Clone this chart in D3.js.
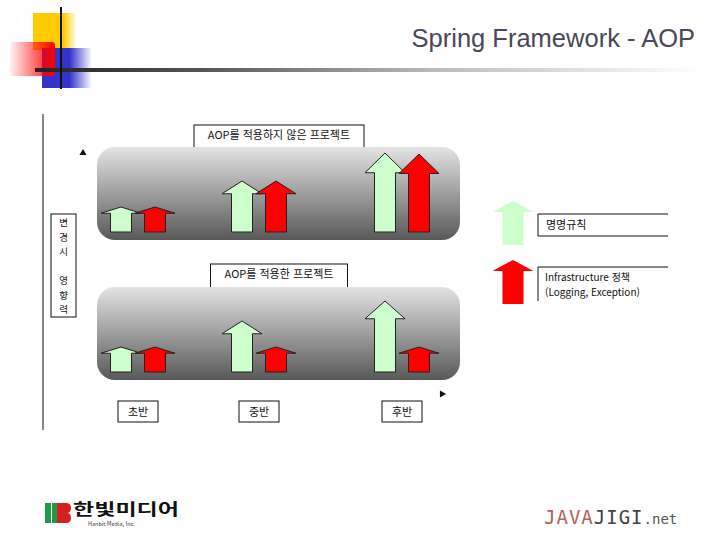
<!DOCTYPE html>
<html lang="ko">
<head>
<meta charset="utf-8">
<script src="https://d3js.org/d3.v7.min.js"></script>
<style>
body { margin: 0; background: #ffffff; }
text { font-family: "Noto Sans CJK KR", "Liberation Sans", sans-serif; }
</style>
</head>
<body>
<script>
// chart data
var phases = ["초반", "중반", "후반"];
var seriesNames = ["명명규칙", "Infrastructure 정책"];
var noAopRule = [25, 51, 79];
var noAopInfra = [25, 51, 78];
var aopRule = [25, 51, 71];
var aopInfra = [25, 25, 25];
var panelTitles = ["AOP를 적용하지 않은 프로젝트", "AOP를 적용한 프로젝트"];
var axisLabel = ["변", "경", "시", "", "영", "향", "력"];

var width = 720, height = 540;
var green = "#ccffcc", red = "#ff0000";

var svg = d3.select("body").append("svg")
  .attr("width", width)
  .attr("height", height);

var defs = svg.append("defs");

function linGrad(id, x2, y2, stops) {
  var g = defs.append("linearGradient").attr("id", id)
    .attr("x1", "0%").attr("y1", "0%").attr("x2", x2).attr("y2", y2);
  stops.forEach(function(s) {
    g.append("stop").attr("offset", s[0]).attr("stop-color", s[1]).attr("stop-opacity", s[2]);
  });
}
linGrad("panelGrad", "0%", "100%", [["0%", "#e4e4e4", 1], ["100%", "#585858", 1]]);
linGrad("ruleGrad", "100%", "0%", [["0%", "#222", 1], ["25%", "#555", 1], ["60%", "#bbb", 1], ["100%", "#fff", 1]]);
linGrad("yellowGrad", "100%", "0%", [["0%", "#ffcc00", 1], ["70%", "#ffcc00", 1], ["100%", "#ffcc00", 0]]);
linGrad("blueGrad", "100%", "0%", [["0%", "#3333cc", 1], ["55%", "#3333cc", 1], ["100%", "#3333cc", 0]]);
linGrad("redGrad", "100%", "0%", [["0%", "#ff0000", 0.05], ["100%", "#ff0000", 1]]);

// header decoration
svg.append("rect").attr("x", 33).attr("y", 13).attr("width", 44).attr("height", 37).attr("fill", "url(#yellowGrad)");
svg.append("rect").attr("x", 42).attr("y", 48).attr("width", 50).attr("height", 40).attr("fill", "url(#blueGrad)");
svg.append("rect").attr("x", 10).attr("y", 42).attr("width", 45).attr("height", 34).attr("rx", 3).attr("fill", "url(#redGrad)");
svg.append("rect").attr("x", 35).attr("y", 68).attr("width", 665).attr("height", 4).attr("fill", "url(#ruleGrad)");
svg.append("line").attr("x1", 61).attr("x2", 61).attr("y1", 7).attr("y2", 89)
  .attr("stroke", "#111").attr("stroke-width", 2);

svg.append("text")
  .attr("x", 695).attr("y", 47)
  .attr("text-anchor", "end")
  .style("font-family", "Liberation Sans, sans-serif")
  .style("font-size", "25.5px")
  .attr("fill", "#48485a")
  .text("Spring Framework - AOP");

// scales
var x = d3.scaleOrdinal().domain(phases).range([138, 259, 402]);
var sub = d3.scaleOrdinal().domain(seriesNames).range([-17, 17]);
var yTop = d3.scaleLinear().domain([0, 100]).range([232, 132]);
var yBot = d3.scaleLinear().domain([0, 100]).range([372, 272]);

// arrow path: center cx, bottom y0, tip y1
function arrowPath(cx, y0, y1, shaft, head) {
  var len = y0 - y1, hh = len * 0.25;
  var p = d3.path();
  p.moveTo(cx - shaft / 2, y0);
  p.lineTo(cx - shaft / 2, y1 + hh);
  p.lineTo(cx - head / 2, y1 + hh);
  p.lineTo(cx, y1);
  p.lineTo(cx + head / 2, y1 + hh);
  p.lineTo(cx + shaft / 2, y1 + hh);
  p.lineTo(cx + shaft / 2, y0);
  p.closePath();
  return p.toString();
}

function drawPanel(y, top, bottom, title, boxW, boxH, rule, infra) {
  var bx = 279 - boxW / 2;
  svg.append("rect").attr("x", bx).attr("y", top - boxH - 3).attr("width", boxW).attr("height", boxH + 6)
    .attr("fill", "#fff").attr("stroke", "#111").attr("stroke-width", 1);
  svg.append("text").attr("x", 279).attr("y", top - boxH / 2 + 1)
    .attr("text-anchor", "middle").style("font-size", "11px").attr("fill", "#111").text(title);

  svg.append("rect").attr("x", 97).attr("y", top).attr("width", 363).attr("height", bottom - top)
    .attr("rx", 18).attr("fill", "url(#panelGrad)");

  var rows = [];
  phases.forEach(function(ph, i) {
    rows.push({ph: ph, s: seriesNames[0], v: rule[i], c: green});
    rows.push({ph: ph, s: seriesNames[1], v: infra[i], c: red});
  });
  svg.append("g").selectAll("path").data(rows).join("path")
    .attr("d", function(d) { return arrowPath(x(d.ph) + sub(d.s), y(0), y(d.v), 21, 40); })
    .attr("fill", function(d) { return d.c; })
    .attr("stroke", "#222").attr("stroke-width", 1);
}

drawPanel(yTop, 147, 240, panelTitles[0], 170, 19, noAopRule, noAopInfra);
drawPanel(yBot, 287, 380, panelTitles[1], 137, 20, aopRule, aopInfra);

// axes
svg.append("line").attr("x1", 43).attr("x2", 43).attr("y1", 114).attr("y2", 430)
  .attr("stroke", "#111").attr("stroke-width", 1);
svg.append("path").attr("d", d3.symbol(d3.symbolTriangle, 22)())
  .attr("transform", "translate(83,153)").attr("fill", "#111");
svg.append("path").attr("d", d3.symbol(d3.symbolTriangle, 22)())
  .attr("transform", "translate(442,394) rotate(90)").attr("fill", "#111");

// axis label box (vertical)
svg.append("rect").attr("x", 51).attr("y", 214).attr("width", 25).attr("height", 103)
  .attr("fill", "#fff").attr("stroke", "#111");
svg.append("g").selectAll("text").data(axisLabel).join("text")
  .attr("x", 63.5)
  .attr("y", function(d, i) { return 226 + i * 14.5; })
  .attr("text-anchor", "middle").style("font-size", "9.5px").attr("fill", "#111")
  .text(function(d) { return d; });

// phase labels
var lab = svg.append("g").selectAll("g").data(phases).join("g")
  .attr("transform", function(d) { return "translate(" + x(d) + ",401)"; });
lab.append("rect").attr("x", -20).attr("width", 40).attr("height", 21)
  .attr("fill", "#fff").attr("stroke", "#111");
lab.append("text").attr("y", 15).attr("text-anchor", "middle")
  .style("font-size", "11px").attr("fill", "#111").text(function(d) { return d; });

// legend
var legY = d3.scaleOrdinal().domain(seriesNames).range([201, 260]);
var legC = d3.scaleOrdinal().domain(seriesNames).range([green, red]);
svg.append("g").selectAll("path").data(seriesNames).join("path")
  .attr("d", function(d) { return arrowPath(513, legY(d) + 44, legY(d), 21, 41); })
  .attr("fill", function(d) { return legC(d); });
svg.append("path").attr("d", "M668,214H538V236H668").attr("fill", "none").attr("stroke", "#111");
svg.append("path").attr("d", "M668,267H538V301").attr("fill", "none").attr("stroke", "#111");
svg.append("text").attr("x", 546).attr("y", 229).style("font-size", "11px").attr("fill", "#111").text(seriesNames[0]);
svg.append("text").attr("x", 545).attr("y", 281).style("font-size", "10px").attr("fill", "#111").text(seriesNames[1]);
svg.append("text").attr("x", 545).attr("y", 296).style("font-size", "10px").attr("fill", "#111").text("(Logging, Exception)");

// footer: Hanbit Media logo
svg.append("rect").attr("x", 45).attr("y", 503).attr("width", 6).attr("height", 20).attr("fill", "#1e9a4a");
svg.append("rect").attr("x", 52).attr("y", 503).attr("width", 5).attr("height", 20).attr("fill", "#1e9a4a");
svg.append("path").attr("d", "M57,503H66Q71,503 71,508Q71,513 67,513Q71,513 71,518Q71,523 66,523H57Z")
  .attr("fill", "#d62020");
svg.append("text").attr("x", 73).attr("y", 515)
  .attr("textLength", 106).attr("lengthAdjust", "spacingAndGlyphs")
  .style("font-size", "16px").style("font-weight", "bold").attr("fill", "#111").text("한빛미디어");
svg.append("text").attr("x", 88).attr("y", 526)
  .style("font-size", "5.5px").attr("fill", "#333").text("Hanbit Media, Inc.");

// footer: JAVAJIGI.net
var jj = svg.append("text").attr("x", 544).attr("y", 524)
  .style("font-family", "DejaVu Sans Mono, monospace").style("font-size", "19px")
  .style("letter-spacing", "1px");
jj.append("tspan").attr("fill", "#b06258").text("JAVA");
jj.append("tspan").attr("fill", "#444").text("JIGI");
jj.append("tspan").attr("fill", "#555").style("font-size", "14px").style("letter-spacing", "0px").text(".net");
</script>
</body>
</html>
